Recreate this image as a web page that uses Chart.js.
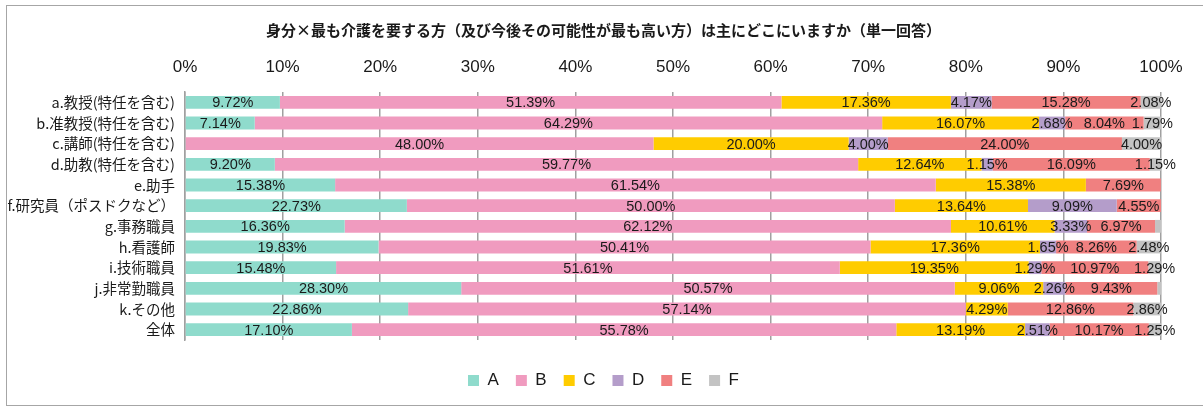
<!DOCTYPE html>
<html>
<head>
<meta charset="utf-8">
<script src="https://cdn.jsdelivr.net/npm/chart.js@4/dist/chart.umd.min.js"></script>
<style>
  html, body { margin: 0; padding: 0; background: #fff; }
  #wrap { position: relative; width: 1203px; height: 408px; overflow: hidden; }
  #frame { position: absolute; left: 6px; top: 5px; width: 1210px; height: 401px; border: 1.5px solid #a6a6a6; box-sizing: border-box; }
  canvas { position: absolute; left: 0; top: 0; }
</style>
</head>
<body>
<div id="wrap">
  <div id="frame"></div>
  <canvas id="c" width="1203" height="408"></canvas>
</div>
<script>
const chartTitle = '身分×最も介護を要する方（及び今後その可能性が最も高い方）は主にどこにいますか（単一回答）';
const categories = ['a.教授(特任を含む)', 'b.准教授(特任を含む)', 'c.講師(特任を含む)', 'd.助教(特任を含む)', 'e.助手', 'f.研究員（ポスドクなど）', 'g.事務職員', 'h.看護師', 'i.技術職員', 'j.非常勤職員', 'k.その他', '全体'];
const seriesNames = ['A', 'B', 'C', 'D', 'E', 'F'];
const seriesA = [9.72, 7.14, 0, 9.20, 15.38, 22.73, 16.36, 19.83, 15.48, 28.30, 22.86, 17.10];
const seriesB = [51.39, 64.29, 48.00, 59.77, 61.54, 50.00, 62.12, 50.41, 51.61, 50.57, 57.14, 55.78];
const seriesC = [17.36, 16.07, 20.00, 12.64, 15.38, 13.64, 10.61, 17.36, 19.35, 9.06, 4.29, 13.19];
const seriesD = [4.17, 2.68, 4.00, 1.15, 0, 9.09, 3.33, 1.65, 1.29, 2.26, 0, 2.51];
const seriesE = [15.28, 8.04, 24.00, 16.09, 7.69, 4.55, 6.97, 8.26, 10.97, 9.43, 12.86, 10.17];
const seriesF = [2.08, 1.79, 4.00, 1.15, 0, 0, 0.61, 2.48, 1.29, 0.38, 2.86, 1.25];
const xTickValues = [0, 10, 20, 30, 40, 50, 60, 70, 80, 90, 100];
const colors = ['#8fdbcc', '#f09bbf', '#ffcc00', '#b49dca', '#f08080', '#c3c3c3'];

const allSeries = [seriesA, seriesB, seriesC, seriesD, seriesE, seriesF];

const labelPlugin = {
  id: 'segLabels',
  afterDatasetsDraw(chart) {
    const ctx = chart.ctx;
    ctx.save();
    ctx.font = '14.5px "Liberation Sans", Arial, sans-serif';
    ctx.fillStyle = '#1a1a1a';
    ctx.textAlign = 'center';
    ctx.textBaseline = 'middle';
    chart.data.datasets.forEach((ds, di) => {
      const meta = chart.getDatasetMeta(di);
      meta.data.forEach((bar, i) => {
        const v = ds.data[i];
        if (v < 1) return;
        const cx = (bar.x + bar.base) / 2;
        ctx.fillText(v.toFixed(2) + '%', cx, bar.y + 1);
      });
    });
    ctx.restore();
  }
};

// shift title and legend boxes so they are centred like the original (which centres them over a narrower block)
const centerShift = {
  id: 'centerShift',
  afterLayout(chart) {
    const shiftLeft = 46;
    [chart.titleBlock, chart.legend].forEach(b => {
      if (!b) return;
      b.left = shiftLeft;
      b.width = b.right - b.left;
    });
  }
};

new Chart(document.getElementById('c'), {
  type: 'bar',
  data: {
    labels: categories,
    datasets: allSeries.map((s, i) => ({
      label: seriesNames[i],
      data: s,
      backgroundColor: colors[i],
      borderWidth: 0,
      categoryPercentage: 0.62,
      barPercentage: 1.0
    }))
  },
  plugins: [labelPlugin, centerShift],
  options: {
    indexAxis: 'y',
    responsive: false,
    animation: false,
    layout: { padding: { left: 0, right: 42, top: 12, bottom: 9 } },
    plugins: {
      title: {
        display: true,
        text: chartTitle,
        color: '#1a1a1a',
        font: { family: '"Noto Sans CJK JP", sans-serif', size: 15, weight: 'bold' },
        padding: { top: 9, bottom: 13 }
      },
      legend: {
        display: true,
        position: 'bottom',
        labels: {
          boxWidth: 11,
          boxHeight: 11,
          padding: 17,
          color: '#1a1a1a',
          font: { family: '"Liberation Sans", Arial, sans-serif', size: 17 }
        }
      },
      tooltip: { enabled: false }
    },
    scales: {
      x: {
        position: 'top',
        stacked: true,
        min: 0,
        max: 100,
        afterFit(scale) { scale.height = 40; },
        afterBuildTicks(scale) { scale.ticks = xTickValues.map(v => ({ value: v })); },
        ticks: {
          padding: 14,
          color: '#1a1a1a',
          font: { family: '"Liberation Sans Narrow", "Liberation Sans", Arial, sans-serif', size: 17 },
          callback: v => v + '%'
        },
        grid: { color: '#a0a0a0', lineWidth: 1.5, drawTicks: false },
        border: { display: false }
      },
      gap: {
        axis: 'x',
        type: 'linear',
        position: 'bottom',
        display: true,
        afterFit(scale) { scale.height = 15; },
        ticks: { display: false },
        grid: { display: false, drawTicks: false },
        border: { display: false }
      },
      y: {
        stacked: true,
        afterFit(scale) { scale.width = 185; },
        ticks: {
          padding: 10,
          color: '#1a1a1a',
          font: { family: '"Noto Sans CJK JP", sans-serif', size: 14.5 }
        },
        grid: { display: false, drawTicks: false },
        border: { display: true, color: '#a0a0a0', width: 1.5 }
      }
    }
  }
});
</script>
</body>
</html>
